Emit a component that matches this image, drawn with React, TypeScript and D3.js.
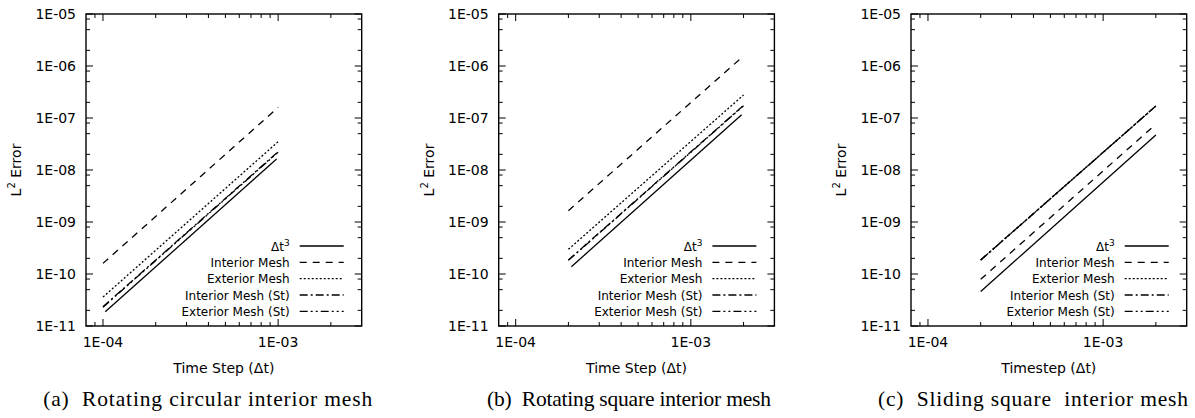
import React from "react";
import * as d3 from "d3";

// ---------- data ----------
const yTickValues = [1e-5, 1e-6, 1e-7, 1e-8, 1e-9, 1e-10, 1e-11];
const yTickLabels = ["1E-05", "1E-06", "1E-07", "1E-08", "1E-09", "1E-10", "1E-11"];
const xTickValues = [1e-4, 1e-3];
const xTickLabels = ["1E-04", "1E-03"];
const yMinorFactors = [2, 5, 8];
const xMinorFactors = [2, 3, 4, 5, 6, 7, 8, 9];

const seriesNames = ["Δt³", "Interior Mesh", "Exterior Mesh", "Interior Mesh (St)", "Exterior Mesh (St)"];

// panel (a)
const dtA = [1e-4, 1e-3];
const refDtA = [1.03e-4, 9.8e-4];
const refA = [1.88e-11, 1.62e-8];
const interiorA = [1.6e-10, 1.6e-7];
const exteriorA = [3.6e-11, 3.5e-8];
const interiorStA = [2.35e-11, 2.25e-8];
const exteriorStA = [2.3e-11, 2.2e-8];

// panel (b)
const dtB = [2e-4, 2e-3];
const refDtB = [2.08e-4, 1.95e-3];
const refB = [1.38e-10, 1.16e-7];
const interiorB = [1.65e-9, 1.56e-6];
const exteriorB = [2.98e-10, 2.77e-7];
const interiorStB = [1.86e-10, 1.75e-7];
const exteriorStB = [1.83e-10, 1.72e-7];

// panel (c)
const dtC = [2e-4, 2e-3];
const refDtC = [2e-4, 2e-3];
const refC = [4.6e-11, 4.7e-8];
const interiorC = [7.9e-11, 7.6e-8];
const exteriorC = [1.86e-10, 1.7e-7];
const interiorStC = [1.86e-10, 1.7e-7];
const exteriorStC = [1.86e-10, 1.7e-7];

const xLabels = ["Time Step (Δt)", "Time Step (Δt)", "Timestep (Δt)"];
const captions = [
  "(a)  Rotating circular interior mesh",
  "(b)  Rotating square interior mesh",
  "(c)  Sliding square  interior mesh",
];

// ---------- styles ----------
const dashes = [null, "7,6", "2,2", "8,3,2,3", "8,3,2,3,2,3"];
const SANS = "'DejaVu Sans', sans-serif";
const SERIF = "'Liberation Serif', 'DejaVu Serif', serif";

type Panel = {
  left: number;
  xs: number[][];
  ys: number[][];
  xLabel: string;
  caption: string;
  capCenter: number;
  capWidth: number;
};

const panels: Panel[] = [
  {
    left: 86,
    xs: [refDtA, dtA, dtA, dtA, dtA],
    ys: [refA, interiorA, exteriorA, interiorStA, exteriorStA],
    xLabel: xLabels[0],
    caption: captions[0],
    capCenter: 207.7,
    capWidth: 329,
  },
  {
    left: 498.7,
    xs: [refDtB, dtB, dtB, dtB, dtB],
    ys: [refB, interiorB, exteriorB, interiorStB, exteriorStB],
    xLabel: xLabels[1],
    caption: captions[1],
    capCenter: 629,
    capWidth: 284,
  },
  {
    left: 911,
    xs: [refDtC, dtC, dtC, dtC, dtC],
    ys: [refC, interiorC, exteriorC, interiorStC, exteriorStC],
    xLabel: xLabels[2],
    caption: captions[2],
    capCenter: 1033,
    capWidth: 310,
  },
];

const W = 275.7;
const TOP = 14;
const BOTTOM = 326;

function PanelView({ p }: { p: Panel }) {
  const x = d3.scaleLog().domain([8e-5, 3e-3]).range([p.left, p.left + W]);
  const y = d3.scaleLog().domain([1e-11, 1e-5]).range([BOTTOM, TOP]);
  const right = p.left + W;
  const line = d3
    .line<[number, number]>()
    .x((d) => x(d[0]))
    .y((d) => y(d[1]));

  const xMinor: number[] = [];
  for (const dec of [1e-5, 1e-4, 1e-3]) {
    for (const f of xMinorFactors) {
      const v = dec * f;
      if (v > 8e-5 && v < 3e-3) xMinor.push(v);
    }
  }
  const yMinor: number[] = [];
  for (const dec of [1e-11, 1e-10, 1e-9, 1e-8, 1e-7, 1e-6]) {
    for (const f of yMinorFactors) yMinor.push(dec * f);
  }
  const MAJ = 7;
  const MIN = 4;
  const sw = 1.3;
  const legRight = right - 72;
  const legRows = [246, 262.3, 278.6, 295, 311.3];

  return (
    <g>
      {/* ticks */}
      <g stroke="#000" strokeWidth={1}>
        {yTickValues.map((v, i) => (
          <g key={"ym" + i}>
            <line x1={p.left} x2={p.left + MAJ} y1={y(v)} y2={y(v)} />
            <line x1={right} x2={right - MAJ} y1={y(v)} y2={y(v)} />
          </g>
        ))}
        {yMinor.map((v, i) => (
          <g key={"yn" + i}>
            <line x1={p.left} x2={p.left + MIN} y1={y(v)} y2={y(v)} />
            <line x1={right} x2={right - MIN} y1={y(v)} y2={y(v)} />
          </g>
        ))}
        {xTickValues.map((v, i) => (
          <g key={"xm" + i}>
            <line x1={x(v)} x2={x(v)} y1={BOTTOM} y2={BOTTOM - MAJ} />
            <line x1={x(v)} x2={x(v)} y1={TOP} y2={TOP + MAJ} />
          </g>
        ))}
        {xMinor.map((v, i) => (
          <g key={"xn" + i}>
            <line x1={x(v)} x2={x(v)} y1={BOTTOM} y2={BOTTOM - MIN} />
            <line x1={x(v)} x2={x(v)} y1={TOP} y2={TOP + MIN} />
          </g>
        ))}
      </g>
      {/* frame */}
      <rect x={p.left} y={TOP} width={W} height={BOTTOM - TOP} fill="none" stroke="#000" strokeWidth={1.4} />
      {/* tick labels */}
      <g fontFamily={SANS} fontSize={14} fill="#000">
        {yTickValues.map((v, i) => (
          <text key={"yl" + i} x={p.left - 10} y={y(v) + 5} textAnchor="end">
            {yTickLabels[i]}
          </text>
        ))}
        {xTickValues.map((v, i) => (
          <text key={"xl" + i} x={x(v)} y={347} textAnchor="middle">
            {xTickLabels[i]}
          </text>
        ))}
        <text x={p.left + W / 2} y={373} textAnchor="middle">
          {p.xLabel}
        </text>
        <text transform={`translate(${p.left - 65},170) rotate(-90)`} textAnchor="middle">
          L<tspan dy={-6} fontSize={10}>2</tspan>
          <tspan dy={6}> Error</tspan>
        </text>
      </g>
      {/* data lines */}
      <g fill="none" stroke="#000" strokeWidth={sw}>
        {p.ys.map((ys, si) => (
          <path
            key={"s" + si}
            d={line(p.xs[si].map((xv, k) => [xv, ys[k]] as [number, number])) || ""}
            strokeDasharray={dashes[si] || undefined}
          />
        ))}
      </g>
      {/* legend */}
      <g fontFamily={SANS} fontSize={12} fill="#000">
        {seriesNames.map((n, i) => (
          <g key={"lg" + i}>
            <text x={legRight} y={legRows[i] + 4.5} textAnchor="end">
              {i === 0 ? (
                <>
                  Δt<tspan dy={-5} fontSize={9}>3</tspan>
                </>
              ) : (
                n
              )}
            </text>
            <line
              x1={right - 62}
              x2={right - 18}
              y1={legRows[i]}
              y2={legRows[i]}
              stroke="#000"
              strokeWidth={sw}
              strokeDasharray={dashes[i] || undefined}
            />
          </g>
        ))}
      </g>
      {/* caption */}
      <text
        x={p.capCenter - p.capWidth / 2}
        y={406}
        fontFamily={SERIF}
        fontSize={21.5}
        fill="#000"
        textLength={p.capWidth}
        lengthAdjust="spacing"
        style={{ whiteSpace: "pre" }}
      >
        {p.caption}
      </text>
    </g>
  );
}

export default function App() {
  return (
    <svg
      width={1195}
      height={418}
      style={{ position: "absolute", left: 0, top: 0, background: "#fff" }}
    >
      <rect x={0} y={0} width={1195} height={418} fill="#fff" />
      {panels.map((p, i) => (
        <PanelView key={i} p={p} />
      ))}
    </svg>
  );
}
